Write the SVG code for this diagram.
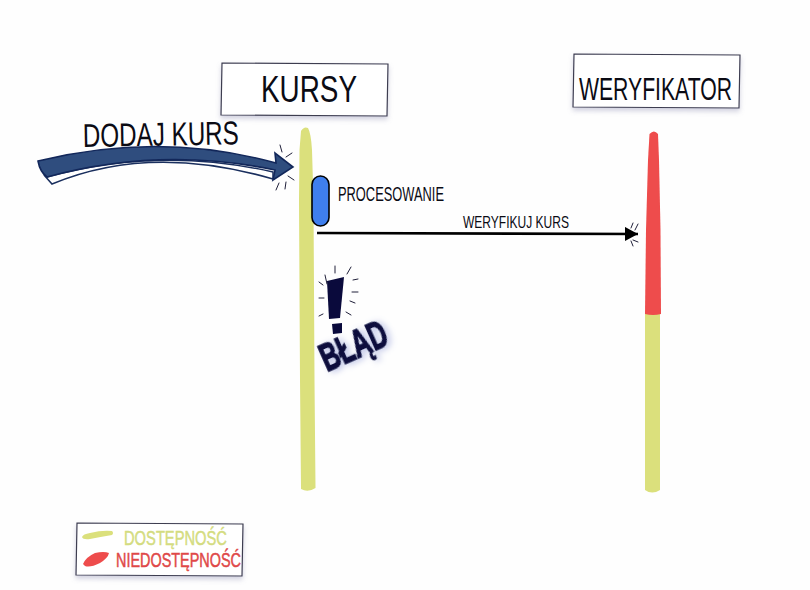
<svg xmlns="http://www.w3.org/2000/svg" width="810" height="590" viewBox="0 0 810 590">
<style>
text{font-family:"Liberation Sans","DejaVu Sans",sans-serif;fill:#0b0b14}
.box{fill:#fff;stroke:#3c3c50;stroke-width:1.2;filter:url(#soft)}
.ray{fill:none;stroke:#20203a;stroke-width:1;stroke-linecap:round}
.green{fill:#dbe07c}
.red{fill:#ee4c4c}
</style>
<defs>
<filter id="soft" x="-10%" y="-20%" width="120%" height="150%"><feDropShadow dx="0" dy="3" stdDeviation="2.5" flood-color="#8a8ab0" flood-opacity=".4"/></filter>
<filter id="glow" x="-20%" y="-20%" width="150%" height="150%"><feDropShadow dx="3" dy="2" stdDeviation="3" flood-color="#6a78c8" flood-opacity=".45"/></filter>
<marker id="head" markerUnits="userSpaceOnUse" markerWidth="14" markerHeight="14" refX="13" refY="7" orient="auto"><path d="M0 0L13 7L0 14Z" fill="#000"/></marker>
</defs>
<rect width="810" height="590" fill="#fefefe"/>

<g id="kursy">
<path class="box" d="M222 63L388 64L387 116L221 115Z"/>
<text x="261" y="102" font-size="37" textLength="96" lengthAdjust="spacingAndGlyphs">KURSY</text>
<path class="green" d="M301 131Q304 126 308 128Q311 133 312 150L313.500 200L314.500 380L315.500 488Q308 493 301 489L300 380L299 200L299.500 150Z"/>
</g>

<g id="weryfikator">
<path class="box" d="M574 54L740 55L739 108L573 107Z"/>
<text x="579" y="100" font-size="31" textLength="153" lengthAdjust="spacingAndGlyphs">WERYFIKATOR</text>
<path class="green" d="M645 314L660 314L660 490Q652 495 645 490Z"/>
<path class="red" d="M649.500 134Q654 129 658 134L659 160L660.500 230L661 314Q653 316 645 314L646 230L648 160Z"/>
</g>

<g id="procesowanie">
<rect x="312" y="176" width="17" height="50" rx="8.500" fill="#3f7fee" stroke="#000" stroke-width="1.6"/>
<text x="338" y="201" font-size="21" textLength="106" lengthAdjust="spacingAndGlyphs">PROCESOWANIE</text>
</g>

<g id="blad">
<path d="M327 281L344 277L340 318L329 319Z" fill="#0a0a3c"/>
<path d="M332 324L342 323L342 333L333 334Z" fill="#0a0a3c"/>
<path class="ray" d="M325 275L327 284M335 266L335 273M351 267L347 274M353 280L358 279M323 285L319 282M352 292L358 292M319 298L324 298M350 301L355 303M319 316L323 314M346 312L351 315"/>
<text transform="translate(327 372) rotate(-24)" font-size="38" font-weight="700" stroke="#0a0a3c" stroke-width="1.500" textLength="70" lengthAdjust="spacingAndGlyphs" filter="url(#glow)" style="fill:#0a0a3c">BŁĄD</text>
</g>

<g id="legend">
<path class="box" d="M77 523L243 524L242 576L76 575Z"/>
<path d="M82 537Q83 534 90 533Q102 530 112 531Q114 533 112 535Q100 537 90 539Q83 540 82 537Z" fill="#dbe07c"/>
<path d="M83 564Q86 557 95 553Q104 551 109 553Q108 558 100 563Q90 568 85 566Z" fill="#ee4c4c"/>
<text x="124" y="545" font-size="21" stroke="#d4dc80" stroke-width=".5" textLength="103" lengthAdjust="spacingAndGlyphs" style="fill:#d4dc80">DOSTĘPNOŚĆ</text>
<text x="116" y="567" font-size="21" stroke="#e04848" stroke-width=".5" textLength="125" lengthAdjust="spacingAndGlyphs" style="fill:#e04848">NIEDOSTĘPNOŚĆ</text>
</g>

<g id="connectors">
<text x="83" y="147" font-size="33" transform="rotate(-1 83 147)" textLength="156" lengthAdjust="spacingAndGlyphs">DODAJ KURS</text>
<path d="M44 175L52 184Q150 143 273 179L273 172Q160 146 47 177Z" fill="#fff" stroke="#1a2f5e" stroke-width="1.500"/>
<path d="M38 161Q160 131 276 163L275 153L293 167L273 180L275 170Q160 146 47 177Q40 172 38 161Z" fill="#2f4d7e" stroke="#12275a" stroke-width="1.600"/>
<path class="ray" d="M280 145L282 152M292 153L286 157M294 180L288 176M285 189L286 182M276 190L279 183"/>
<path d="M317 233L638 234" stroke="#000" stroke-width="2.600" fill="none" marker-end="url(#head)"/>
<path class="ray" d="M631 228L633 223M635 230L638 224M631 241L633 246M633 240L638 242"/>
<text x="463" y="228" font-size="17" textLength="106" lengthAdjust="spacingAndGlyphs">WERYFIKUJ KURS</text>
</g>
</svg>
